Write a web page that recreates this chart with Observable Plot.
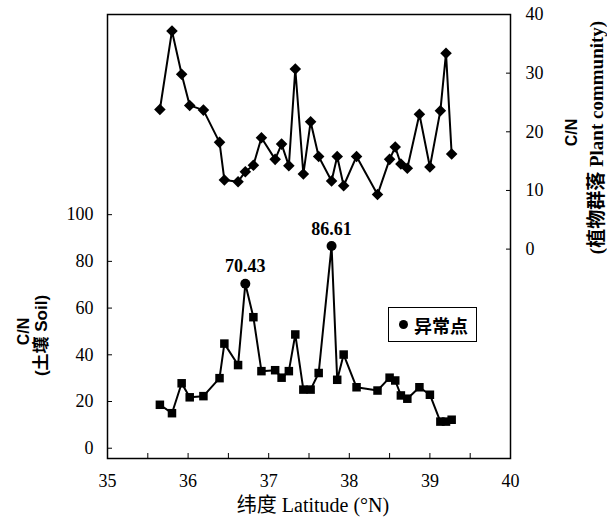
<!DOCTYPE html>
<html><head><meta charset="utf-8">
<script src="https://cdn.jsdelivr.net/npm/d3@7"></script>
<script src="https://cdn.jsdelivr.net/npm/@observablehq/plot@0.6"></script>
<style>
body{margin:0;background:#fff;}
#wrap{position:relative;width:607px;height:523px;}
#wrap svg{position:absolute;left:0;top:0;}
#legend{position:absolute;left:388px;top:307px;width:89px;height:35px;box-sizing:border-box;border:1.3px solid #000;
  display:flex;align-items:center;font-family:'Noto Sans CJK SC',sans-serif;font-weight:bold;font-size:18px;color:#000;}
#legend .dot{display:inline-block;width:9px;height:9px;border-radius:50%;background:#000;margin:0 6px 0 10px;}
</style></head><body><div id="wrap"></div>
<script>
const latitude = [35.65, 35.80, 35.92, 36.02, 36.19, 36.39, 36.45, 36.62, 36.71, 36.81, 36.91, 37.08, 37.16, 37.25, 37.33, 37.43,
                  37.52, 37.62, 37.78, 37.85, 37.93, 38.09, 38.35, 38.50, 38.57, 38.64, 38.72, 38.87, 39.00, 39.13, 39.20, 39.27];
const plantCN = [23.8, 37.2, 29.8, 24.5, 23.7, 18.2, 11.8, 11.5, 13.2, 14.3, 19.0, 15.3, 17.9, 14.2, 30.7, 12.8,
                 21.7, 15.8, 11.6, 15.8, 10.8, 15.8, 9.3, 15.3, 17.4, 14.5, 13.8, 23.0, 14.0, 23.6, 33.4, 16.2];
const soilCN = [18.6, 15.0, 27.8, 21.8, 22.3, 30.0, 44.8, 35.6, 70.43, 56.1, 33.0, 33.4, 30.2, 33.0, 48.7, 25.1,
                25.1, 32.2, 86.61, 29.3, 40.1, 26.1, 24.7, 30.2, 29.0, 22.6, 21.2, 26.1, 22.9, 11.4, 11.4, 12.2];
const anomalyIndex = [8, 18];
const anomalyLabels = ["70.43", "86.61"];
const soilTicks = [0, 20, 40, 60, 80, 100];
const plantTicks = [0, 10, 20, 30, 40];
const latTicks = [35, 35.5, 36, 36.5, 37, 37.5, 38, 38.5, 39, 39.5, 40];
const latLabels = [35, 36, 37, 38, 39, 40];
const xTitle = "纬度 Latitude (°N)";
const soilTitle = ["C/N", "(土壤 Soil)"];
const plantTitle = ["C/N", "(植物群落 Plant community)"];
const legendLabel = "异常点";

const serif = "'Liberation Serif','Noto Sans CJK SC',serif";
const sans = "'Liberation Sans','Noto Sans CJK SC',sans-serif";
const dims = {width: 607, height: 523, marginTop: 14, marginRight: 97, marginBottom: 65, marginLeft: 107};

const soil = latitude.map((lat, i) => ({lat, v: soilCN[i], i}));
const anomalies = anomalyIndex.map((i, k) => ({lat: latitude[i], v: soilCN[i], label: anomalyLabels[k]}));
const plant = latitude.map((lat, i) => ({lat, v: plantCN[i]}));

const plotA = Plot.plot({
  ...dims,
  style: {background: "transparent", fontFamily: serif, fontSize: "18px", color: "#000", overflow: "visible"},
  x: {domain: [35, 40]},
  y: {domain: [-4.4, 185.7]},
  marks: [
    Plot.frame({stroke: "#000", strokeWidth: 1.5}),
    Plot.axisX({ticks: latTicks, tickSize: -5, tickPadding: 21, label: null, fontSize: 18,
      tickFormat: d => latLabels.includes(d) ? String(d) : ""}),
    Plot.axisY({anchor: "left", ticks: soilTicks, tickSize: -5, tickPadding: 19, label: null, fontSize: 18}),
    Plot.line(soil, {x: "lat", y: "v", stroke: "#000", strokeWidth: 2}),
    Plot.dot(soil.filter(d => !anomalyIndex.includes(d.i)), {x: "lat", y: "v", symbol: "square", r: 4.8, fill: "#000"}),
    Plot.dot(anomalies, {x: "lat", y: "v", symbol: "circle", r: 5, fill: "#000"}),
    Plot.text(anomalies, {x: "lat", y: "v", text: "label", dy: -17, fontWeight: "bold", fontSize: 18, fontFamily: serif, letterSpacing: 0.8}),
    Plot.text([soilTitle[0]], {text: d => d, frameAnchor: "left", textAnchor: "middle", dx: -84, dy: 95, rotate: -90, fontFamily: sans, fontWeight: "bold", fontSize: 16}),
    Plot.text([soilTitle[1]], {text: d => d, frameAnchor: "left", textAnchor: "middle", dx: -66, dy: 99, rotate: -90, fontFamily: sans, fontWeight: "bold", fontSize: 17}),
    Plot.text([xTitle], {text: d => d, frameAnchor: "bottom", textAnchor: "middle", dx: 4, dy: 53, fontFamily: serif, fontSize: 20})
  ]
});

const plotB = Plot.plot({
  ...dims,
  style: {background: "transparent", fontFamily: serif, fontSize: "18px", color: "#000", overflow: "visible"},
  x: {domain: [35, 40], axis: null},
  y: {domain: [-35.7, 40]},
  marks: [
    Plot.axisY({anchor: "right", ticks: plantTicks, tickSize: -5, tickPadding: 20, label: null, fontSize: 18}),
    Plot.line(plant, {x: "lat", y: "v", stroke: "#000", strokeWidth: 2}),
    Plot.dot(plant, {x: "lat", y: "v", symbol: "diamond2", r: 5.2, fill: "#000"}),
    Plot.text([plantTitle[0]], {text: d => d, frameAnchor: "right", textAnchor: "middle", dx: 61, dy: -104, rotate: -90, fontFamily: sans, fontWeight: "bold", fontSize: 16}),
    Plot.text([plantTitle[1]], {text: d => d, frameAnchor: "right", textAnchor: "middle", dx: 86, dy: -99, rotate: -90, fontFamily: serif, fontWeight: "bold", fontSize: 19, letterSpacing: 2.6})
  ]
});

const wrap = document.getElementById("wrap");
wrap.appendChild(plotA);
wrap.appendChild(plotB);
const legend = document.createElement("div");
legend.id = "legend";
legend.innerHTML = `<span class="dot"></span><span>${legendLabel}</span>`;
wrap.appendChild(legend);
</script>
</body></html>
